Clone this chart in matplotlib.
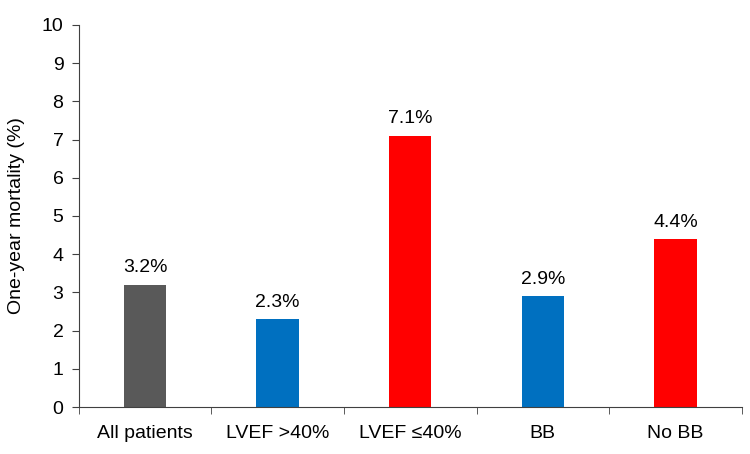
import matplotlib
matplotlib.use("Agg")
import matplotlib.pyplot as plt
import numpy as np

categories = ["All patients", "LVEF >40%", "LVEF \u226440%", "BB", "No BB"]
values = [3.2, 2.3, 7.1, 2.9, 4.4]
labels = ["3.2%", "2.3%", "7.1%", "2.9%", "4.4%"]
colors = ["#595959", "#0070C0", "#FF0000", "#0070C0", "#FF0000"]

plt.rcParams['font.family'] = ['Liberation Sans', 'DejaVu Sans']

fig = plt.figure(figsize=(7.5, 4.54), dpi=100)
ax = fig.add_axes([0.105, 0.1035, 0.884, 0.8415])

x = np.arange(len(categories))
ax.bar(x, values, width=0.32, color=colors)
for xi, v, lab in zip(x, values, labels):
    ax.text(xi, v + 0.22, lab, ha='center', va='bottom', fontsize=14)

ax.set_xlim(-0.5, len(categories) - 0.5)
ax.set_ylim(0, 10)
ax.set_yticks(range(0, 11))
ax.set_xticks(x)
ax.set_xticklabels(categories, fontsize=14)
ax.set_xticks(np.arange(-0.5, len(categories)), minor=True)
ax.tick_params(axis='x', which='major', length=0, pad=13)
ax.tick_params(axis='x', which='minor', length=5, direction='out', color='#404040')
ax.tick_params(axis='y', length=5, direction='out', labelsize=14, color='#404040', pad=6)
ax.set_ylabel("One-year mortality (%)", fontsize=14, labelpad=12)
for s in ['top', 'right']:
    ax.spines[s].set_visible(False)
for s in ['left', 'bottom']:
    ax.spines[s].set_color('#404040')

fig.savefig("out.png", dpi=100)
